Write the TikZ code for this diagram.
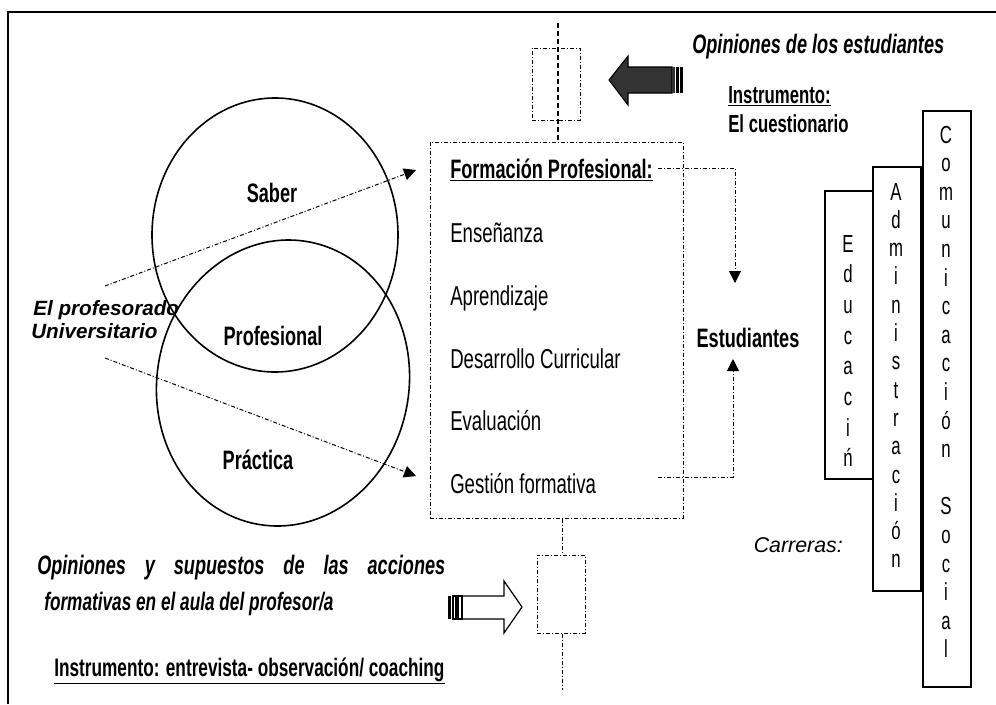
\documentclass[tikz,border=0pt]{standalone}
\usepackage{fontspec}
\setmainfont{Liberation Sans}[FakeStretch=0.68]
\newfontfamily\arialf{Liberation Sans}
\usetikzlibrary{arrows.meta}
\definecolor{darkarrow}{HTML}{333333}
\begin{document}
\begin{tikzpicture}[x=0.75pt,y=-0.75pt,
  item/.style={anchor=base west, inner sep=0pt, font=\fontsize{20.5}{24}\selectfont},
  bitem/.style={anchor=base, inner sep=0pt, font=\fontsize{20}{24}\selectfont\bfseries},
  vl/.style={anchor=base, inner sep=0pt, font=\fontsize{18.5}{22}\selectfont},
  ddl/.style={dash pattern=on 3pt off 1.5pt on 0.75pt off 1.5pt, line width=0.75pt},
  vdash/.style={dash pattern=on 4pt off 2pt, line width=0.9pt},
  tri/.style={-{Triangle[length=9pt,width=9pt]}},
  carbox/.style={draw, line width=1.3pt, inner sep=0pt, minimum width=36pt},
  ell/.style={line width=1.2pt}]
\useasboundingbox (0,0) rectangle (996,704);

% frame
\draw[line width=1.5pt] (8,704) -- (8,12) -- (996,12);

% main dash-dot box
\node[draw, ddl, minimum width=189.75pt, minimum height=282pt, inner sep=0pt] (fbox) at (556.5,330) {};
\node[draw, ddl, minimum width=36pt, minimum height=54pt, inner sep=0pt] (rtop) at (556,84) {};
\node[draw, ddl, minimum width=36pt, minimum height=58.5pt, inner sep=0pt] (rbot) at (561,594) {};
\coordinate (vt) at (558,23);
\coordinate (vb) at (562,690);
\draw[vdash] (vt) -- (vt |- fbox.north);
\draw[ddl] (vb |- fbox.south) -- (vb |- rbot.north);
\draw[ddl] (vb |- rbot.south) -- (vb);

% items
\node[item, font=\fontsize{20}{24}\selectfont\bfseries] (fp) at (450,178) {\underline{Formación Profesional:}};
\node[item] (ens) at (450,242) {Enseñanza};
\node[item] (apr) at (450,305) {Aprendizaje};
\node[item] (des) at (450,368) {Desarrollo Curricular};
\node[item] (eva) at (450,430) {Evaluación};
\node[item] (ges) at (450,493) {Gestión formativa};

\node[bitem] (est) at (748,347) {Estudiantes};
\coordinate (fpr) at (658,168);
\coordinate (dtip) at (735,283);
\draw[ddl, tri] (fpr) -- (fpr -| dtip) -- (dtip);
\coordinate (gr) at (658,477);
\coordinate (utip) at (733,359);
\draw[ddl, tri] (gr) -- (gr -| utip) -- (utip);

% ellipses
\draw[ell] (275,235) ellipse [x radius=92.25pt, y radius=102.75pt];
\draw[ell, rotate around={-10:(283,383)}] (283,383) ellipse [x radius=94.5pt, y radius=107.6pt];
\node[bitem] (sab) at (272,202) {Saber};
\node[bitem] (pro) at (273,345) {Profesional};
\node[bitem] (pra) at (258,469) {Práctica};

\node[anchor=base west, inner sep=0pt, font=\arialf\fontsize{15.5}{18}\selectfont\bfseries\itshape] (prof1) at (33,315) {El profesorado};
\node[anchor=base west, inner sep=0pt, font=\arialf\fontsize{15.5}{18}\selectfont\bfseries\itshape] (prof2) at (31,338) {Universitario};

\coordinate (pl1) at (105,286);
\coordinate (tip1) at (416,170);
\coordinate (pl2) at (105,358);
\coordinate (tip2) at (416,476);
\draw[ddl, tri] (pl1) -- (tip1);
\draw[ddl, tri] (pl2) -- (tip2);

% top dark arrow
\draw[fill=darkarrow, line width=0.8pt, line join=miter] (609,80) -- (628,56) -- (628,67) -- (672,67) -- (672,93) -- (628,93) -- (628,105) -- cycle;
\fill[darkarrow] (672,67) rectangle (675,93);
\fill[black] (676,67) rectangle (679,93);
\fill[black] (680,67) rectangle (683,93);

% bottom white arrow
\draw[fill=white, line width=0.9pt, line join=miter] (522,607) -- (504,581) -- (504,596) -- (462,596) -- (462,619) -- (504,619) -- (504,633) -- cycle;
\fill[black] (448,596) rectangle (451,619);
\draw[line width=0.8pt] (453,596) rectangle (456,619);
\draw[line width=0.8pt] (458,596) rectangle (462,619);

% texts top right
\node[anchor=base west, inner sep=0pt, font=\fontsize{20}{24}\selectfont\bfseries\itshape] (opest) at (692,53) {Opiniones de los estudiantes};
\node[anchor=base west, inner sep=0pt, font=\fontsize{18.5}{22}\selectfont\bfseries] (ins1) at (728,103) {\underline{Instrumento:}};
\node[anchor=base west, inner sep=0pt, font=\fontsize{18.5}{22}\selectfont\bfseries] (ins2) at (728,132) {El cuestionario};

% texts bottom left
\node[anchor=base west, inner sep=0pt, font=\fontsize{20}{24}\selectfont\bfseries\itshape] (op1) at (37,574) {\hbox to 306pt{Opiniones\hfill y\hfill supuestos\hfill de\hfill las\hfill acciones}};
\node[anchor=base west, inner sep=0pt, font=\fontsize{19}{23}\selectfont\bfseries\itshape] (op2) at (44,610) {formativas en el aula del profesor/a};
\node[anchor=base west, inner sep=0pt, font=\fontsize{19}{22}\selectfont\bfseries] (ins3) at (54,676) {\underline{Instrumento: entrevista- observación/ coaching}};

% carreras
\node[anchor=base east, inner sep=0pt, font=\arialf\fontsize{16}{19}\selectfont\itshape] (car) at (843,552) {Carreras:};
\node[carbox, anchor=north west, minimum height=216pt] (edu) at (824,190) {};
\node[carbox, anchor=north west, minimum height=318pt] (adm) at (872,166) {};
\node[carbox, anchor=north west, minimum height=432pt] (com) at (922,110) {};
\foreach \ch [count=\i from 0] in {E,d,u,c,a,c,i,ń}
  \node[vl] (e\i) at (848,252+\i*30.7) {\ch};
\foreach \ch [count=\i from 0] in {A,d,m,i,n,i,s,t,r,a,c,i,ó,n}
  \node[vl] (a\i) at (896,200+\i*28.3) {\ch};
\foreach \ch [count=\i from 0] in {C,o,m,u,n,i,c,a,c,i,ó,n,{},S,o,c,i,a,l}
  \node[vl] (c\i) at (946,143+\i*28.6) {\ch};
\end{tikzpicture}
\end{document}
